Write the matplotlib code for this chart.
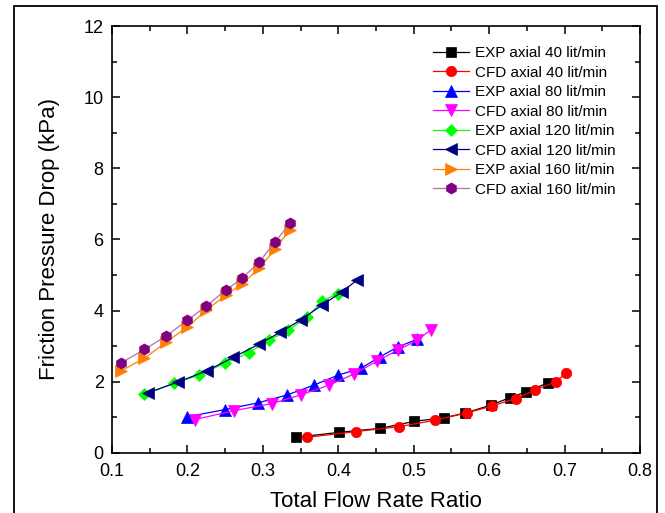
import numpy as np
import matplotlib
matplotlib.use('Agg')
import matplotlib.pyplot as plt
from matplotlib.patches import Rectangle

plt.rcParams['font.family'] = ['Liberation Sans', 'DejaVu Sans']

# EXP / CFD axial 40 lit/min
exp40_x = [0.344, 0.401, 0.455, 0.501, 0.540, 0.568, 0.603, 0.627, 0.649, 0.678]
exp40_y = [0.44, 0.58, 0.69, 0.89, 0.99, 1.12, 1.35, 1.55, 1.72, 1.97]
cfd40_x = [0.359, 0.423, 0.481, 0.528, 0.571, 0.604, 0.635, 0.661, 0.688, 0.702]
cfd40_y = [0.44, 0.60, 0.74, 0.92, 1.13, 1.32, 1.53, 1.77, 2.00, 2.24]

# 80 lit/min
exp80_x = [0.200, 0.250, 0.294, 0.332, 0.368, 0.400, 0.430, 0.455, 0.479, 0.504]
exp80_y = [1.02, 1.22, 1.41, 1.63, 1.91, 2.19, 2.38, 2.70, 2.98, 3.19]
cfd80_x = [0.210, 0.262, 0.312, 0.350, 0.388, 0.421, 0.452, 0.479, 0.505, 0.523]
cfd80_y = [0.94, 1.19, 1.39, 1.63, 1.91, 2.22, 2.59, 2.89, 3.17, 3.47]

# 120 lit/min
exp120_x = [0.143, 0.182, 0.216, 0.250, 0.281, 0.308, 0.334, 0.358, 0.379, 0.399]
exp120_y = [1.65, 1.96, 2.19, 2.53, 2.81, 3.17, 3.45, 3.81, 4.27, 4.48]
cfd120_x = [0.148, 0.188, 0.226, 0.261, 0.295, 0.323, 0.351, 0.378, 0.405, 0.425]
cfd120_y = [1.69, 2.00, 2.31, 2.69, 3.06, 3.39, 3.75, 4.15, 4.53, 4.86]

# 160 lit/min
exp160_x = [0.112, 0.143, 0.172, 0.200, 0.225, 0.251, 0.273, 0.295, 0.316, 0.336]
exp160_y = [2.31, 2.66, 3.12, 3.54, 4.01, 4.44, 4.76, 5.19, 5.72, 6.28]
cfd160_x = [0.112, 0.143, 0.172, 0.200, 0.225, 0.251, 0.273, 0.295, 0.316, 0.336]
cfd160_y = [2.53, 2.91, 3.29, 3.73, 4.13, 4.58, 4.92, 5.36, 5.93, 6.45]

series = [
    (exp40_x, exp40_y, 'EXP axial 40 lit/min', 's', '#000000', '#000000', 6.5),
    (cfd40_x, cfd40_y, 'CFD axial 40 lit/min', 'o', '#FF0000', '#FF0000', 7.5),
    (exp80_x, exp80_y, 'EXP axial 80 lit/min', '^', '#0000FF', '#0000FF', 8.5),
    (cfd80_x, cfd80_y, 'CFD axial 80 lit/min', 'v', '#FF00FF', '#FF00FF', 8.5),
    (exp120_x, exp120_y, 'EXP axial 120 lit/min', 'D', '#00FF00', '#00FF00', 6.5),
    (cfd120_x, cfd120_y, 'CFD axial 120 lit/min', '<', '#000080', '#000080', 8.5),
    (exp160_x, exp160_y, 'EXP axial 160 lit/min', '>', '#FF8000', '#FF8000', 8.5),
    (cfd160_x, cfd160_y, 'CFD axial 160 lit/min', 'h', '#800080', '#B070B0', 8.0),
]

fig = plt.figure(figsize=(6.65, 5.13), dpi=100)
ax = fig.add_axes([0.1684, 0.117, 0.7940, 0.8323])

for x, y, label, marker, mcolor, lcolor, ms in series:
    ax.plot(x, y, color=lcolor, linewidth=0.9, marker=marker, markersize=ms,
            markerfacecolor=mcolor, markeredgecolor=mcolor, markeredgewidth=0.5,
            label=label)

ax.set_xlim(0.1, 0.8)
ax.set_ylim(0, 12)
ax.set_xticks(np.arange(0.1, 0.81, 0.1))
ax.set_xticks(np.arange(0.15, 0.8, 0.1), minor=True)
ax.set_yticks(np.arange(0, 13, 2))
ax.set_yticks(np.arange(1, 12, 2), minor=True)
ax.set_xticklabels(['0.1', '0.2', '0.3', '0.4', '0.5', '0.6', '0.7', '0.8'])

ax.tick_params(which='both', direction='in', top=True, right=True, width=1.1,
               labelsize=13)
ax.tick_params(which='major', length=6)
ax.tick_params(which='minor', length=3.5)
ax.tick_params(axis='x', pad=7)
ax.tick_params(axis='y', pad=6)
for s in ax.spines.values():
    s.set_linewidth(1.2)

ax.set_xlabel('Total Flow Rate Ratio', fontsize=16, labelpad=8)
ax.set_ylabel('Friction Pressure Drop (kPa)', fontsize=16, labelpad=17)

ax.legend(loc='upper right', bbox_to_anchor=(0.975, 0.978), frameon=False,
          fontsize=11, handlelength=2.4, labelspacing=0.36, handletextpad=0.4,
          borderaxespad=0.3)

# outer frame around the figure
fig.patches.append(Rectangle((14 / 665, -0.1), 643 / 665, 1.1 - 6 / 513,
                             transform=fig.transFigure, fill=False,
                             edgecolor='black', linewidth=1.3))

fig.savefig('out.png', dpi=100)
